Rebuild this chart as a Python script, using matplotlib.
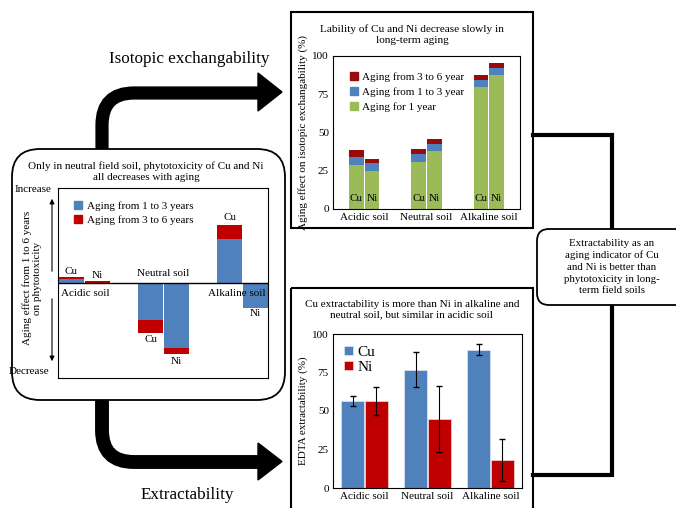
import numpy as np
import matplotlib.pyplot as plt
from matplotlib.patches import Rectangle, FancyBboxPatch, PathPatch, Polygon, Patch
from matplotlib.path import Path

plt.rcParams['font.family'] = ['Liberation Serif', 'DejaVu Serif']

# Data
soils = ["Acidic soil", "Neutral soil", "Alkaline soil"]

# isotopic exchangability (%), stacked
iso_cu_1yr = [28.5, 31, 79.6]
iso_cu_1to3 = [5.8, 5, 4.7]
iso_cu_3to6 = [4.0, 3.3, 3.3]
iso_ni_1yr = [25, 38, 87.6]
iso_ni_1to3 = [5, 4.6, 4.6]
iso_ni_3to6 = [2.8, 3.0, 3.0]

# EDTA extractability (%)
edta_cu = [56.3, 76.8, 89.8]
edta_cu_err = [3.2, 11.5, 3.5]
edta_ni = [56.3, 44.8, 18]
edta_ni_err = [9, 21.5, 13.5]

# phytotoxicity aging effect (arbitrary units)
phyto_cu_1to3 = [4, -37, 44]
phyto_cu_3to6 = [2, -13, 14]
phyto_ni_1to3 = [0, -65, -25]
phyto_ni_3to6 = [2, -6, 0]

green = '#9BBB59'
blue = '#4F81BD'
dred = '#9B0A0A'
red = '#C00000'

W, H = 676, 508
fig = plt.figure(figsize=(W / 100, H / 100), dpi=100)
bg = fig.add_axes([0, 0, 1, 1])
bg.set_xlim(0, W)
bg.set_ylim(H, 0)
bg.axis('off')


def px_axes(x0, y0, x1, y1):
    return fig.add_axes([x0 / W, 1 - y1 / H, (x1 - x0) / W, (y1 - y0) / H])


# arrows
up = Path([(102, 150), (102, 125), (102, 93), (134, 93), (262, 93)],
          [Path.MOVETO, Path.LINETO, Path.CURVE3, Path.CURVE3, Path.LINETO])
bg.add_patch(PathPatch(up, fill=False, lw=9.5, capstyle='butt', joinstyle='miter', color='black'))
bg.add_patch(Polygon([(258, 73), (282, 92), (258, 111)], color='black'))
down = Path([(102, 398), (102, 430), (102, 462), (134, 462), (262, 462)],
            [Path.MOVETO, Path.LINETO, Path.CURVE3, Path.CURVE3, Path.LINETO])
bg.add_patch(PathPatch(down, fill=False, lw=10, capstyle='butt', joinstyle='miter', color='black'))
bg.add_patch(Polygon([(258, 443), (282, 461.5), (258, 480)], color='black'))

bg.text(189, 59, "Isotopic exchangability", fontsize=12.3, ha='center', va='center')
bg.text(187, 495, "Extractability", fontsize=12.3, ha='center', va='center')

# left rounded box
bg.add_patch(FancyBboxPatch((12, 149), 273, 251, boxstyle="round,pad=0,rounding_size=28",
                            fc='white', ec='black', lw=1.3))
bg.text(146, 172, "Only in neutral field soil, phytotoxicity of Cu and Ni\nall decreases with aging",
        fontsize=8, ha='center', va='center', linespacing=1.3)
bg.text(33, 190, "Increase", fontsize=8, ha='center', va='center')
bg.text(29, 371, "Decrease", fontsize=8, ha='center', va='center')
bg.text(32, 278, "Aging effect from 1 to 6 years\non phytotoxicity", fontsize=8,
        ha='center', va='center', rotation=90, linespacing=1.2)
bg.annotate("", xy=(52, 196), xytext=(52, 274),
            arrowprops=dict(arrowstyle='-|>', lw=0.8, color='black', mutation_scale=7))
bg.annotate("", xy=(52, 364), xytext=(52, 296),
            arrowprops=dict(arrowstyle='-|>', lw=0.8, color='black', mutation_scale=7))

# panel boxes and connectors
bg.add_patch(Rectangle((291, 12), 242, 216, fill=False, ec='black', lw=1.5))
bg.add_patch(Rectangle((291, 288), 242, 240, fill=False, ec='black', lw=1.5))
bg.plot([533, 612, 612, 533], [135, 135, 475, 475], color='black', lw=3, solid_joinstyle='miter')
bg.add_patch(FancyBboxPatch((537, 229), 160, 76, boxstyle="round,pad=0,rounding_size=12",
                            fc='white', ec='black', lw=1.3, zorder=3))
bg.text(612, 267, "Extractability as an\naging indicator of Cu\nand Ni is better than\nphytotoxicity in long-\nterm field soils",
        fontsize=7.8, ha='center', va='center', linespacing=1.38, zorder=4)

bg.text(412, 34.5, "Lability of Cu and Ni decrease slowly in\nlong-term aging",
        fontsize=8.1, ha='center', va='center', linespacing=1.38)
bg.text(412, 309.5, "Cu extractability is more than Ni in alkaline and\nneutral soil, but similar in acidic soil",
        fontsize=8, ha='center', va='center', linespacing=1.2)

x = np.arange(len(soils))

# top panel: isotopic exchangability
ax1 = px_axes(333, 56, 520, 209)
w1 = 0.235
for off, g, b, r, lab in [(-0.125, iso_cu_1yr, iso_cu_1to3, iso_cu_3to6, "Cu"),
                          (0.125, iso_ni_1yr, iso_ni_1to3, iso_ni_3to6, "Ni")]:
    g = np.array(g); b = np.array(b); r = np.array(r)
    ax1.bar(x + off, g, w1, color=green)
    ax1.bar(x + off, b, w1, bottom=g, color=blue)
    ax1.bar(x + off, r, w1, bottom=g + b, color=dred)
    for xi in x:
        ax1.text(xi + off, 7, lab, ha='center', va='center', fontsize=8)
ax1.set_xlim(-0.5, 2.5)
ax1.set_ylim(0, 100)
ax1.set_yticks([0, 25, 50, 75, 100])
ax1.set_xticks(x)
ax1.set_xticklabels(soils)
ax1.tick_params(length=0, labelsize=8, pad=3)
ax1.set_ylabel("Aging effect on isotopic exchangability (%)", fontsize=8, labelpad=3)
ax1.legend(handles=[Patch(color=dred, label="Aging from 3 to 6 year"),
                    Patch(color=blue, label="Aging from 1 to 3 year"),
                    Patch(color=green, label="Aging for 1 year")],
           loc='upper left', bbox_to_anchor=(0.06, 0.93), frameon=False, fontsize=8,
           handlelength=0.7, handleheight=0.7, handletextpad=0.4, labelspacing=0.45,
           borderpad=0)

# bottom panel: EDTA extractability
ax2 = px_axes(333, 334, 522, 488)
w2 = 0.36
ax2.bar(x - 0.19, edta_cu, w2, yerr=edta_cu_err, color=blue, edgecolor='#DDE6F2', lw=0.5,
        capsize=2, error_kw=dict(lw=0.8), label="Cu")
ax2.bar(x + 0.19, edta_ni, w2, yerr=edta_ni_err, color=red, edgecolor='#F2DCDC', lw=0.5,
        capsize=2, error_kw=dict(lw=0.8), label="Ni")
ax2.set_xlim(-0.5, 2.5)
ax2.set_ylim(0, 100)
ax2.set_yticks([0, 25, 50, 75, 100])
ax2.set_xticks(x)
ax2.set_xticklabels(soils)
ax2.tick_params(length=0, labelsize=8, pad=3)
ax2.set_ylabel("EDTA extractability (%)", fontsize=8, labelpad=3)
ax2.legend(loc='upper left', bbox_to_anchor=(0.02, 0.97), frameon=False, fontsize=11,
           handlelength=0.55, handleheight=0.55, handletextpad=0.3, labelspacing=0.1,
           borderpad=0)

# left panel: phytotoxicity
ax3 = px_axes(58, 188, 268, 378)
w3 = 0.32
for off, b, r in [(-0.165, phyto_cu_1to3, phyto_cu_3to6), (0.165, phyto_ni_1to3, phyto_ni_3to6)]:
    b = np.array(b); r = np.array(r)
    ax3.bar(x + off, b, w3, color=blue)
    ax3.bar(x + off, r, w3, bottom=b, color=red)
ax3.axhline(0, color='black', lw=1)
ax3.set_xlim(-0.335, 2.32)
ax3.set_ylim(-95, 95)
ax3.set_xticks([])
ax3.set_yticks([])
for xi, yi, s in [(-0.165, 11, "Cu"), (0.165, 8, "Ni"), (1, 10, "Neutral soil"),
                  (0.006, -10, "Acidic soil"), (1.92, -10, "Alkaline soil"),
                  (0.835, -57, "Cu"), (1.165, -78, "Ni"), (1.835, 66, "Cu"), (2.165, -31, "Ni")]:
    ax3.text(xi, yi, s, ha='center', va='center', fontsize=8)
ax3.legend(handles=[Patch(color=blue, label="Aging from 1 to 3 years"),
                    Patch(color=red, label="Aging from 3 to 6 years")],
           loc='upper left', bbox_to_anchor=(0.05, 0.96), frameon=False, fontsize=8,
           handlelength=0.7, handleheight=0.7, handletextpad=0.5, labelspacing=0.35,
           borderpad=0)

fig.savefig("out.png", dpi=100)
